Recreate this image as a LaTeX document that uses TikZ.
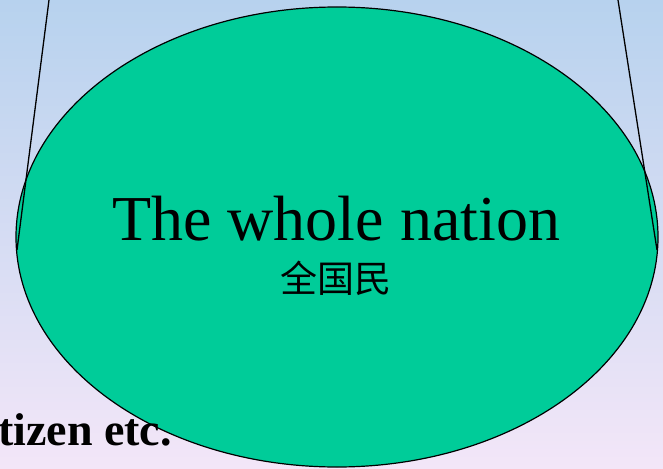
\documentclass[tikz,border=0pt]{standalone}
\usepackage{fontspec}
\setmainfont{Liberation Serif}
\newfontfamily\cjk{Noto Sans CJK SC}
\usetikzlibrary{shapes.geometric}
\definecolor{bgtop}{RGB}{183,210,238}
\definecolor{bgbot}{RGB}{243,230,248}
\definecolor{nationfill}{RGB}{0,204,153}
\begin{document}
\begin{tikzpicture}[x=1pt,y=-1pt,
  edge/.style={draw=black,line width=1.3pt},
  nation/.style={ellipse,draw=black,line width=1.2pt,fill=nationfill,minimum width=642pt,minimum height=460pt,inner sep=0pt}]
\shade[top color=bgtop,bottom color=bgbot] (0,0) rectangle (663,468);
\useasboundingbox (0,0) rectangle (663,468);
\node[nation] (n) at (337,237) {};
\coordinate (l1) at (49,0);
\coordinate (l2) at (17,250);
\coordinate (r1) at (618,0);
\coordinate (r2) at (657,250);
\draw[edge] (l1) -- (l2);
\draw[edge] (r1) -- (r2);
\node[anchor=base west,inner sep=0pt,font=\fontsize{46}{50}\selectfont\bfseries] (tz) at (-2,445) {tizen etc.};
\node[anchor=base,inner sep=0pt,font=\fontsize{64}{70}\selectfont] (t1) at (336,240) {The whole nation};
\node[anchor=base,inner sep=0pt,font=\cjk\fontsize{37}{40}\selectfont] (t2) at (336,292) {全国民};
\end{tikzpicture}
\end{document}
